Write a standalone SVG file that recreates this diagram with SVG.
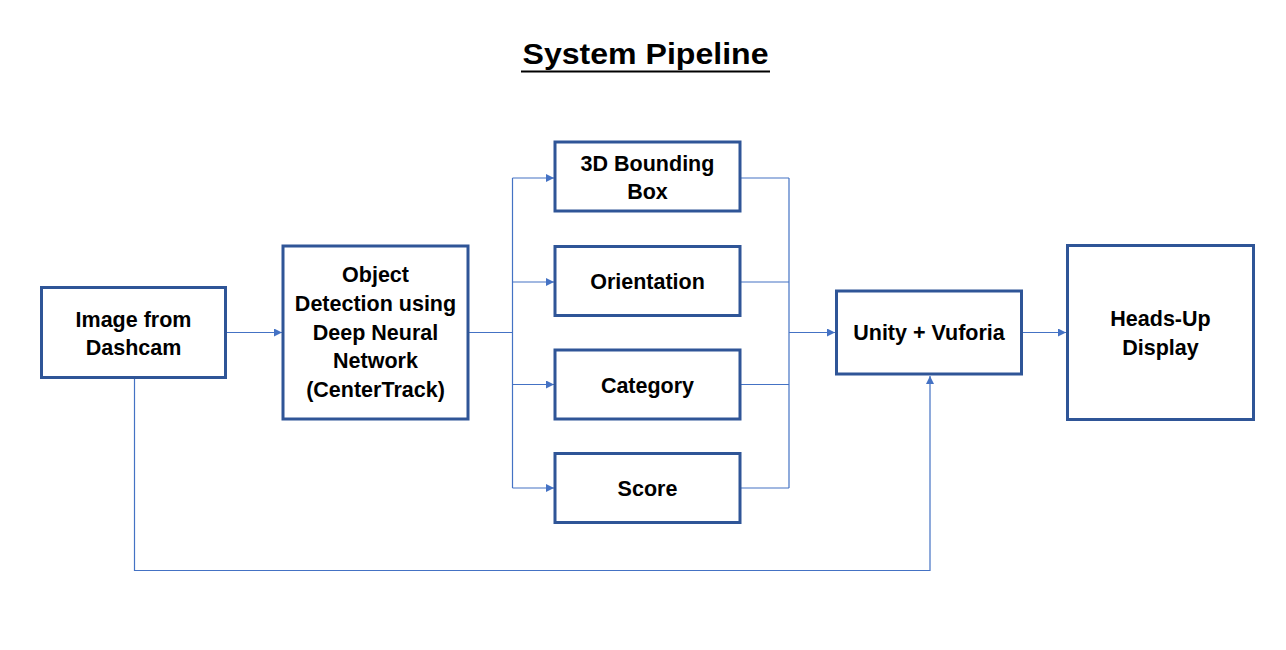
<svg xmlns="http://www.w3.org/2000/svg" width="1286" height="650" viewBox="0 0 1286 650">
<style>
.box{fill:#fff;stroke:#2F5597;stroke-width:3}
.lbl{font-family:"Liberation Sans",Arial,sans-serif;font-weight:bold;font-size:21.5px;fill:#000;text-anchor:middle}
.title{font-family:"Liberation Sans",Arial,sans-serif;font-weight:bold;font-size:30px;fill:#000;text-anchor:middle}
.conn{fill:none;stroke:#4472C4;stroke-width:1.2}
</style>
<defs>
<marker id="arr" viewBox="0 0 10 10" refX="10" refY="5" markerWidth="8" markerHeight="8" markerUnits="userSpaceOnUse" orient="auto">
<path d="M0,0 L10,5 L0,10 z" fill="#4472C4"/>
</marker>
</defs>
<rect width="1286" height="650" fill="#fff"/>
<text class="title" x="645.5" y="64" textLength="246" lengthAdjust="spacingAndGlyphs">System Pipeline</text>
<line x1="521" y1="71.5" x2="770" y2="71.5" stroke="#000" stroke-width="2"/>
<g id="connectors">
<path class="conn" d="M226,332.5 H282" marker-end="url(#arr)"/>
<path class="conn" d="M469,332.5 H512.5"/>
<path class="conn" d="M512.5,178 V488"/>
<path class="conn" d="M512.5,178 H554" marker-end="url(#arr)"/>
<path class="conn" d="M512.5,282 H554" marker-end="url(#arr)"/>
<path class="conn" d="M512.5,384.5 H554" marker-end="url(#arr)"/>
<path class="conn" d="M512.5,488 H554" marker-end="url(#arr)"/>
<path class="conn" d="M741,178 H789 M741,282 H789 M741,384.5 H789 M741,488 H789"/>
<path class="conn" d="M789,178 V488"/>
<path class="conn" d="M789,332.5 H835" marker-end="url(#arr)"/>
<path class="conn" d="M1023,332.5 H1066" marker-end="url(#arr)"/>
<path class="conn" d="M134.5,379 V570.5 H930 V376" marker-end="url(#arr)"/>
</g>
<g id="node-dashcam">
<rect class="box" x="41.5" y="287.5" width="184" height="90"/>
<text class="lbl" x="133.5" y="326.5">Image from</text>
<text class="lbl" x="133.5" y="355">Dashcam</text>
</g>
<g id="node-detection">
<rect class="box" x="283" y="246" width="185" height="173"/>
<text class="lbl" x="375.5" y="281.5">Object</text>
<text class="lbl" x="375.5" y="310.5">Detection using</text>
<text class="lbl" x="375.5" y="339.5">Deep Neural</text>
<text class="lbl" x="375.5" y="368">Network</text>
<text class="lbl" x="375.5" y="396.5">(CenterTrack)</text>
</g>
<g id="node-bbox">
<rect class="box" x="555" y="142" width="185" height="69"/>
<text class="lbl" x="647.5" y="170.5">3D Bounding</text>
<text class="lbl" x="647.5" y="199">Box</text>
</g>
<g id="node-orientation">
<rect class="box" x="555" y="246.5" width="185" height="69"/>
<text class="lbl" x="647.5" y="288.5">Orientation</text>
</g>
<g id="node-category">
<rect class="box" x="555" y="350" width="185" height="69"/>
<text class="lbl" x="647.5" y="392.5">Category</text>
</g>
<g id="node-score">
<rect class="box" x="555" y="453.5" width="185" height="69"/>
<text class="lbl" x="647.5" y="495.5">Score</text>
</g>
<g id="node-unity">
<rect class="box" x="836.5" y="291" width="185" height="83"/>
<text class="lbl" x="929" y="340">Unity + Vuforia</text>
</g>
<g id="node-hud">
<rect class="box" x="1067.5" y="245.5" width="186" height="174"/>
<text class="lbl" x="1160.5" y="326">Heads-Up</text>
<text class="lbl" x="1160.5" y="354.5">Display</text>
</g>
</svg>
